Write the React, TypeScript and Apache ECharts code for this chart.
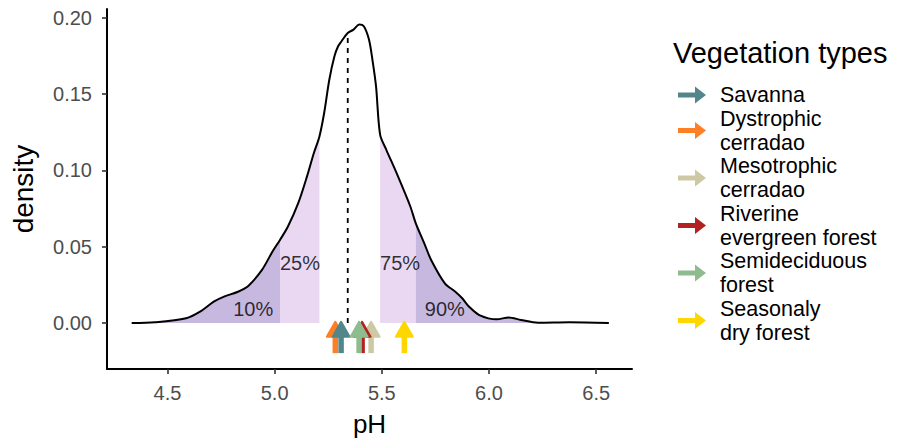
import React, { useEffect, useRef } from "react";
import * as echarts from "echarts";

// density curve (pH, density)
const densityPH = [
  4.333, 4.442, 4.587, 4.652, 4.716, 4.764, 4.829, 4.877, 4.941, 4.990,
  5.025, 5.062, 5.110, 5.151, 5.183, 5.209, 5.231, 5.255, 5.279, 5.296,
  5.312, 5.341, 5.368, 5.395, 5.416, 5.440, 5.456, 5.473, 5.492, 5.521,
  5.569, 5.633, 5.658, 5.698, 5.730, 5.794, 5.843, 5.875, 5.907, 5.955,
  6.036, 6.092, 6.149, 6.229, 6.374, 6.559,
];
const densityValue = [
  0.0, 0.0005, 0.0031, 0.0074, 0.014, 0.0173, 0.0205, 0.0243, 0.0348, 0.0468,
  0.0544, 0.0632, 0.0785, 0.096, 0.1113, 0.1222, 0.1375, 0.1593, 0.1746, 0.1812,
  0.1845, 0.1899, 0.1921, 0.1954, 0.1943, 0.1856, 0.1725, 0.155, 0.1233, 0.1134,
  0.0981, 0.0763, 0.0654, 0.0522, 0.0413, 0.026, 0.0205, 0.0162, 0.0107, 0.0052,
  0.0024, 0.0037, 0.002, 0.0002, 0.0005, 0.0,
];

// quantiles
const q10 = 5.025;
const q25 = 5.209;
const q50 = 5.341;
const q75 = 5.492;
const q90 = 5.658;
const medianHeight = 0.1899;

const pctLabels = ["10%", "25%", "75%", "90%"];
const pctX = [4.9, 5.118, 5.585, 5.794];
const pctY = [0.009, 0.039, 0.039, 0.009];

// vegetation type arrows (mean pH)
const vegNames = [
  "Savanna",
  "Dystrophic\ncerradao",
  "Mesotrophic\ncerradao",
  "Riverine\nevergreen forest",
  "Semideciduous\nforest",
  "Seasonaly\ndry forest",
];
const vegPH = [5.31, 5.283, 5.45, 5.408, 5.394, 5.605];
const vegColors = ["#53868B", "#FF7F24", "#CDC9A5", "#B22222", "#8FBC8F", "#FFD700"];
const drawOrder = [1, 0, 2, 3, 4, 5];
const arrowTip = 0.0015;
const arrowBase = -0.0197;

const xTicks = [4.5, 5.0, 5.5, 6.0, 6.5];
const yTicks = [0, 0.05, 0.1, 0.15, 0.2];

const FONT = "'Liberation Sans', Arial, sans-serif";
const DARK = "#C7B8E0";
const LIGHT = "#EAD8F3";

export default function App() {
  const ref = useRef<HTMLDivElement>(null);
  useEffect(() => {
    document.body.style.margin = "0";
    const chart = echarts.init(ref.current!, null, { renderer: "svg" });
    const curve = densityPH.map((x, i) => [x, densityValue[i]]);
    const region = (lo: number, hi: number) => curve.filter((p) => p[0] >= lo && p[0] <= hi);
    const areaSeries = (data: number[][], color: string) => ({
      type: "line",
      data,
      smooth: 0.3,
      showSymbol: false,
      silent: true,
      lineStyle: { width: 0 },
      areaStyle: { color, opacity: 1 },
      z: 1,
    });
    const arrowSeries = drawOrder.map((i) => ({
      type: "custom",
      name: vegNames[i],
      itemStyle: { color: vegColors[i] },
      data: [[vegPH[i], arrowBase]],
      z: 5,
      renderItem: (params: any, api: any) => {
        const x = api.value(0);
        const tip = api.coord([x, arrowTip]);
        const base = api.coord([x, arrowBase]);
        const color = api.visual("color");
        const headH = 16;
        const headW = 17;
        const shaftW = 5.5;
        return {
          type: "group",
          children: [
            {
              type: "rect",
              shape: { x: tip[0] - shaftW / 2, y: tip[1] + headH - 2, width: shaftW, height: base[1] - (tip[1] + headH - 2) },
              style: { fill: color },
            },
            {
              type: "polygon",
              shape: { points: [[tip[0], tip[1] + 1], [tip[0] - headW / 2, tip[1] + headH], [tip[0] + headW / 2, tip[1] + headH]] },
              style: { fill: color, stroke: color, lineWidth: 2, lineJoin: "round" },
            },
          ],
        };
      },
    }));
    const option: any = {
      animation: false,
      textStyle: { fontFamily: FONT },
      grid: { left: 107, right: 268, top: 9, bottom: 71, outerBoundsMode: "none", containLabel: false },
      xAxis: {
        type: "value",
        min: 4.218,
        max: 6.667,
        name: "pH",
        nameLocation: "middle",
        nameGap: 42,
        nameMoveOverlap: false,
        nameTextStyle: { fontSize: 26, color: "#000", fontFamily: FONT, verticalAlign: "top" },
        axisLine: { onZero: false, lineStyle: { color: "#000", width: 2 } },
        axisTick: { customValues: xTicks, length: 5, lineStyle: { color: "#333", width: 1.6 } },
        axisLabel: {
          customValues: xTicks,
          formatter: (v: number) => v.toFixed(1),
          color: "#4D4D4D",
          fontSize: 20,
          margin: 14,
          fontFamily: FONT,
        },
        splitLine: { show: false },
      },
      yAxis: {
        type: "value",
        min: -0.0301,
        max: 0.2056,
        name: "density",
        nameLocation: "middle",
        nameGap: 70,
        nameTextStyle: { fontSize: 28, color: "#000", fontFamily: FONT },
        axisLine: { show: true, onZero: false, lineStyle: { color: "#000", width: 2 } },
        axisTick: { show: true, customValues: yTicks, length: 5, lineStyle: { color: "#333", width: 1.6 } },
        axisLabel: {
          customValues: yTicks,
          formatter: (v: number) => v.toFixed(2),
          color: "#4D4D4D",
          fontSize: 20,
          margin: 15,
          fontFamily: FONT,
        },
        splitLine: { show: false },
      },
      legend: {
        data: vegNames,
        orient: "vertical",
        left: 678,
        top: 83,
        padding: 0,
        itemWidth: 28,
        itemHeight: 17,
        itemGap: -0.5,
        icon: "path://M0,6 L17,6 L17,0 L28,8.5 L17,17 L17,11 L0,11 Z",
        textStyle: { fontSize: 21.5, lineHeight: 24, color: "#000", fontFamily: FONT, padding: [0, 0, 0, 9] },
        selectedMode: false,
      },
      graphic: [
        {
          type: "text",
          left: 673,
          top: 38,
          style: { text: "Vegetation types", font: `29px ${FONT}`, fill: "#000" },
        },
      ],
      series: [
        areaSeries(region(0, q10), DARK),
        areaSeries(region(q10, q25), LIGHT),
        areaSeries(region(q75, q90), LIGHT),
        areaSeries(region(q90, 10), DARK),
        {
          type: "line",
          data: curve,
          smooth: 0.3,
          showSymbol: false,
          silent: true,
          lineStyle: { color: "#000", width: 2 },
          z: 3,
        },
        {
          type: "line",
          data: [[q50, 0], [q50, medianHeight]],
          showSymbol: false,
          silent: true,
          lineStyle: { color: "#000", width: 1.8, type: [5, 5] },
          z: 3,
        },
        {
          type: "scatter",
          symbolSize: 0,
          silent: true,
          data: pctLabels.map((n, i) => ({ name: n, value: [pctX[i], pctY[i]] })),
          label: { show: true, position: "inside", formatter: "{b}", fontSize: 20, color: "#000", fontFamily: FONT },
          z: 4,
        },
        ...arrowSeries,
      ],
    };
    chart.setOption(option);
    return () => chart.dispose();
  }, []);
  return <div ref={ref} style={{ width: 900, height: 440 }} />;
}
